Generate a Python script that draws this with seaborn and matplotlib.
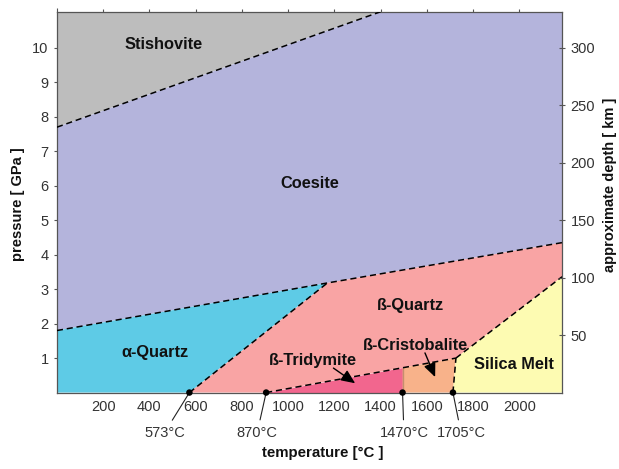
import matplotlib
matplotlib.use("Agg")
import matplotlib.pyplot as plt
import seaborn as sns
import numpy as np
import pandas as pd

# ── Data: phase boundaries of SiO2 (temperature °C, pressure GPa) ──────
T_MAX, P_MAX = 2185, 11.05
KM_PER_GPA = 30

stish_T = [0, 1400]            # stishovite / coesite
stish_P = [7.7, 11.05]
coes_T = [0, 1170, 2185]       # coesite / quartz
coes_P = [1.8, 3.18, 4.35]
aq_T = [573, 1170]             # alpha / beta quartz
aq_P = [0, 3.18]
trid_T = [905, 1726]           # beta quartz / tridymite + cristobalite
trid_P = [0, 1.0]
tc_T = [1495, 1495]            # tridymite / cristobalite
tc_P = [0, 0.72]
cm_T = [1713, 1726]            # cristobalite / melt
cm_P = [0, 1.0]
melt_T = [1726, 2185]          # beta quartz / melt
melt_P = [1.0, 3.36]

dot_T = [573, 905, 1495, 1713]
dot_labels = ["573°C", "870°C", "1470°C", "1705°C"]
dot_label_T = [465, 866, 1501, 1748]

phase_names = ["Stishovite", "Coesite", "α-Quartz", "ß-Quartz",
               "ß-Tridymite", "ß-Cristobalite", "Silica Melt"]
phase_T = [461, 1095, 424, 1528, 1108, 1551, 1977]
phase_P = [10.09, 6.08, 1.15, 2.53, 0.93, 1.36, 0.8]
phase_colors = ["#bdbdbd", "#b4b4dc", "#5ecbe6", "#f9a4a4",
                "#f2668e", "#f8b28a", "#fdfbb2"]

depth_ticks = [50, 100, 150, 200, 250, 300]

# ── Style ───────────────────────────────────────────────────────────────
sns.set_style("white")
plt.rcParams["font.family"] = ["Liberation Sans", "DejaVu Sans"]
plt.rcParams["font.size"] = 10.5
TXT = "#333333"

fig = plt.figure(figsize=(6.19, 4.69), dpi=100)
ax = fig.add_axes([0.092, 0.163, 0.816, 0.812])

# ── Phase regions built from the boundary arrays ───────────────────────
polys = {
    "Stishovite": (stish_T + [0], stish_P + [P_MAX]),
    "Coesite": (coes_T + [T_MAX, stish_T[1], 0],
                coes_P + [P_MAX, P_MAX, stish_P[0]]),
    "α-Quartz": ([0, aq_T[0], aq_T[1], 0], [0, 0, aq_P[1], coes_P[0]]),
    "ß-Quartz": ([aq_T[0]] + trid_T + [T_MAX, coes_T[2], coes_T[1]],
                 [0] + trid_P + [melt_P[1], coes_P[2], coes_P[1]]),
    "ß-Tridymite": ([trid_T[0]] + tc_T, [0] + tc_P),
    "ß-Cristobalite": (tc_T[:1] + cm_T + tc_T[1:], tc_P[:1] + cm_P + tc_P[1:]),
    "Silica Melt": (cm_T + [T_MAX, T_MAX], cm_P + [melt_P[1], 0]),
}
for name, col in zip(phase_names, phase_colors):
    xs, ys = polys[name]
    ax.fill(xs, ys, color=col, lw=0, zorder=1)

# ── Dashed boundaries ──────────────────────────────────────────────────
for bx, by in [(stish_T, stish_P), (coes_T, coes_P), (aq_T, aq_P),
               (trid_T, trid_P), (tc_T, tc_P), (cm_T, cm_P), (melt_T, melt_P)]:
    df = pd.DataFrame({"T": bx, "P": by})
    sns.lineplot(data=df, x="T", y="P", ax=ax, color="black", lw=1.1,
                 linestyle=(0, (4, 2.5)), sort=False, zorder=3)

# triple-point dots
sns.scatterplot(x=dot_T, y=[0] * len(dot_T), ax=ax, color="black", s=22,
                edgecolor="none", zorder=5, clip_on=False)
for t, lab, lt in zip(dot_T, dot_labels, dot_label_T):
    ax.annotate(lab, xy=(t, 0), xytext=(lt, -1.17), ha="center", va="center",
                fontsize=10.5, color=TXT, annotation_clip=False,
                arrowprops=dict(arrowstyle="-", lw=0.8, color="#222222",
                                shrinkA=2, shrinkB=0))

# phase names
for name, t, p in zip(phase_names, phase_T, phase_P):
    ax.text(t, p, name, ha="center", va="center", fontsize=11.8,
            fontweight="bold", color="#111111", zorder=6)

arrow_kw = dict(arrowstyle="-|>,head_length=0.8,head_width=0.35", lw=1.0,
                color="black", shrinkA=0, shrinkB=0)
ax.annotate("", xy=(1290, 0.27), xytext=(1196, 0.71), arrowprops=arrow_kw, zorder=6)
ax.annotate("", xy=(1636, 0.45), xytext=(1592, 1.15), arrowprops=arrow_kw, zorder=6)

# ── Axes ───────────────────────────────────────────────────────────────
ax.set_xlim(0, T_MAX)
ax.set_ylim(0, P_MAX)
ax.set_xticks(range(200, 2001, 200))
ax.set_yticks(range(1, 11))
ax.tick_params(axis="both", direction="inout", length=5, width=0.8,
               colors="#555555", labelcolor=TXT, labelsize=10.5)
ax.tick_params(axis="x", top=True, pad=3)
ax.set_xticks(range(0, 2001, 200), minor=True)
ax.tick_params(axis="x", which="minor", top=True, bottom=False,
               direction="out", length=3, width=0.8, colors="#555555")
for sp in ax.spines.values():
    sp.set_color("#555555")
    sp.set_linewidth(0.9)
ax.set_xlabel("temperature [°C ]", fontweight="bold", fontsize=10.8, color="#111111")
ax.set_ylabel("pressure [ GPa ]", fontweight="bold", fontsize=10.5, color="#111111")
ax.xaxis.set_label_coords(0.527, -0.14)
ax.yaxis.set_label_coords(-0.064, 0.495)

ax2 = ax.twinx()
ax2.set_ylim(0, P_MAX * KM_PER_GPA)
ax2.set_yticks(depth_ticks)
ax2.tick_params(axis="y", direction="inout", length=5, width=0.8,
                colors="#555555", labelcolor=TXT, labelsize=10.5)
for sp in ax2.spines.values():
    sp.set_visible(False)
ax2.set_ylabel("approximate depth [ km ]", fontweight="bold", fontsize=10.5,
               color="#111111")
ax2.yaxis.set_label_coords(1.082, 0.545)

fig.savefig("out.png", dpi=100)
